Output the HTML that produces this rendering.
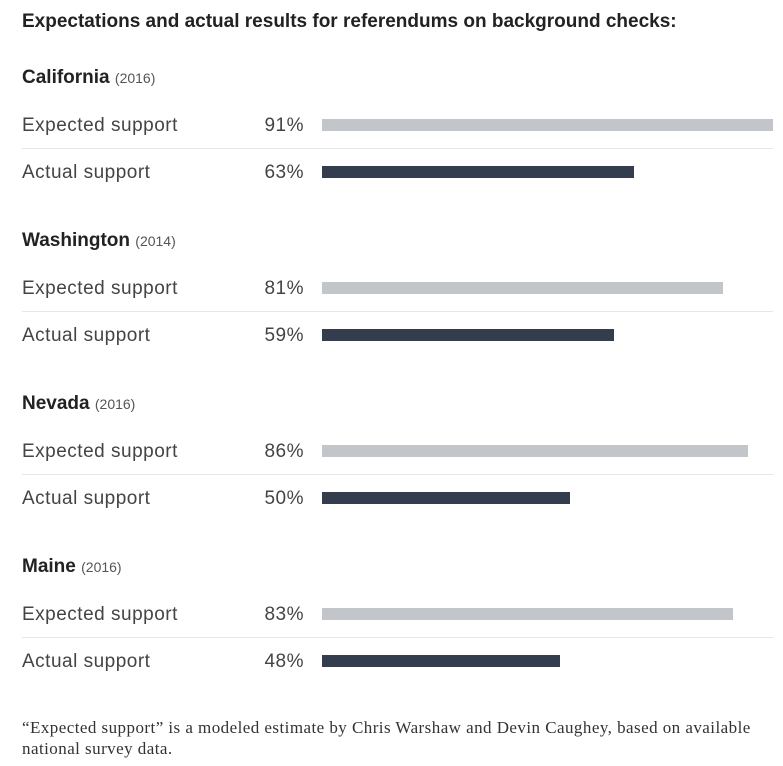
<!DOCTYPE html>
<html><head><meta charset="utf-8"><style>
body{margin:0;width:783px;height:766px;background:#fff;position:relative;overflow:hidden;font-family:"Liberation Sans",sans-serif;color:#333}
.a{position:absolute;white-space:nowrap}
#title{left:22px;top:11px;font-size:19px;font-weight:bold;color:#222}
.hdr{font-size:19px;font-weight:bold;color:#222}
.hdr span{font-weight:normal;font-size:14px;color:#555}
.lbl{font-size:19px;color:#444;letter-spacing:0.5px}
.pct{font-size:19px;color:#444;text-align:right;width:80px;letter-spacing:0.5px}
.sep{height:1px;background:#e6e6e6}
#note{left:22px;top:717px;font-family:"Liberation Serif",serif;font-size:17px;letter-spacing:0.45px;color:#333;line-height:21px;white-space:normal;width:752px}
</style></head><body>
<div id="title" class="a">Expectations and actual results for referendums on background checks:</div>
<div id="chart"></div>
<div id="note" class="a">“Expected support” is a modeled estimate by Chris Warshaw and Devin Caughey, based on available national survey data.</div>
<script>
const states=["California","Washington","Nevada","Maine"];
const years=["2016","2014","2016","2016"];
const expected=[91,81,86,83];
const actual=[63,59,50,48];
const x0=322, scale=451/91, groupH=163;
const chart=document.getElementById('chart');
function mk(cls,name,left,top){const d=document.createElement('div');d.className='a '+cls;d.style.left=left+'px';d.style.top=top+'px';


chart.appendChild(d);return d;}
states.forEach((s,i)=>{
  const g=i*groupH;
  const h=mk('hdr','state-header',22,g+67);h.innerHTML=s+' <span>('+years[i]+')</span>';
  [[expected[i],'Expected support','#c2c6ca',0],[actual[i],'Actual support','#333d4d',47]].forEach(([v,l,c,dy])=>{
    const y=g+dy;
    const t=mk('lbl','row-label',22,y+115);t.textContent=l;
    const p=mk('pct','value-label',224,y+115);p.textContent=v+'%';
    const b=mk('','bar',x0,y+119);b.style.width=(v*scale)+'px';b.style.height='12px';b.style.background=c;
  });
  const sp=mk('sep','row-separator',22,g+148);sp.style.width='751px';
});
</script>
</body></html>
